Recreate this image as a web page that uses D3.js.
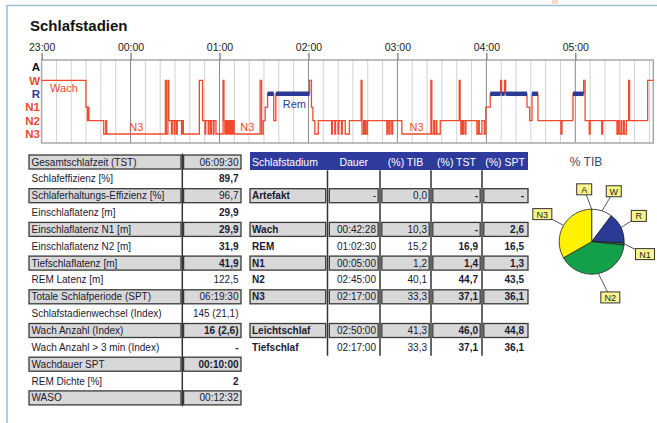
<!DOCTYPE html>
<html>
<head>
<meta charset="utf-8">
<script src="https://cdn.jsdelivr.net/npm/d3@7"></script>
<style>
body{margin:0;background:#fff;}
svg{display:block;font-family:"Liberation Sans",Arial,sans-serif;}
</style>
</head>
<body>
<div id="chart"></div>
<script>
// Hypnogramm: Minuten ab 23:00, jeweils Beginn eines Stadiums
var stageTimes = [0,29.9,30.9,31.3,31.9,41.9,43.3,43.9,83.5,84.1,85.2,85.8,87.6,88.1,89.4,89.9,91.0,91.5,94.4,94.9,95.6,
  106.4,108.6,110.2,110.7,112.4,112.9,114.0,114.5,115.8,116.3,117.6,122.4,123.0,123.6,124.3,124.9,125.6,126.2,126.9,127.5,128.1,128.7,129.3,129.9,
  147.4,148.4,149.5,150.8,152.4,156.6,158.0,180.7,182.0,183.0,184.3,186.6,195.6,196.1,197.8,198.3,200.0,200.5,202.3,202.8,204.8,207.6,
  215.5,216.1,217.2,217.6,218.4,218.8,219.8,232.9,233.5,234.5,235.0,236.2,236.8,243.0,262.6,263.2,264.5,265.0,266.2,266.6,268.9,
  281.7,282.3,282.8,283.3,284.0,284.5,285.6,286.2,293.6,294.6,295.2,297.0,298.6,299.6,302.6,309.6,310.3,312.3,313.0,327.4,329.2,330.8,334.8,
  350.3,351.0,358.4,365.6,366.6,369.4,370.0,377.8,378.4,388.1,389.0,389.6,390.8,391.3,392.5,393.0,394.4,396.0,396.6,408.8];
var stageCodes = ["W","N1","N2","N1","N2","N3","N2","N3","W","N3","W","N2","N3","N2","N3","N2","N3","N2","N3","N2","N3",
  "W","N2","N3","N2","N3","N2","N3","N2","N3","N2","N3","W","N2","N3","N2","N3","N2","N3","N2","N3","N2","N3","N2","N3",
  "W","N3","N2","N1","R","N2","R","W","N1","N2","N3","N2","N3","N2","N3","N2","N3","N2","N3","N2","N3","N2",
  "W","N3","N2","N3","N2","N3","N2","N3","N2","N3","N2","N3","N2","N3","W","N3","N2","N3","N2","N3","N2",
  "W","N2","N3","N2","N3","N2","N3","N2","N3","N2","N3","N2","N3","N1","R","W","R","W","R","N1","N2","R","N2",
  "N3","N2","R","W","N2","N3","N2","N3","N2","N3","N2","N3","N2","N3","N2","N3","N2","W","N2","W"];
var endMinute = 412.6;
var stageNames = ["A","W","R","N1","N2","N3"];
var hourLabels = ["23:00","00:00","01:00","02:00","03:00","04:00","05:00"];
var hourMinutes = [0,60,120,180,240,300,360];
var plotLabels = ["Wach","N3","N3","Rem","N3"];
var plotLabelMinutes = [5.7,59.2,134,162.7,248.2];
var plotLabelStages = ["W","N3","N3","R","N3"];

// linke Tabelle
var leftLabels = ["Gesamtschlafzeit (TST)","Schlafeffizienz [%]","Schlaferhaltungs-Effizienz [%]","Einschlaflatenz [m]",
  "Einschlaflatenz N1 [m]","Einschlaflatenz N2 [m]","Tiefschlaflatenz [m]","REM Latenz [m]","Totale Schlafperiode (SPT)",
  "Schlafstadienwechsel (Index)","Wach Anzahl (Index)","Wach Anzahl > 3 min (Index)","Wachdauer SPT","REM Dichte [%]","WASO"];
var leftValues = ["06:09:30","89,7","96,7","29,9","29,9","31,9","41,9","122,5","06:19:30","145 (21,1)","16 (2,6)","-","00:10:00","2","00:12:32"];

// rechte Tabelle
var headers = ["Schlafstadium","Dauer","(%) TIB","(%) TST","(%) SPT"];
var stageRows = ["","Artefakt","","Wach","REM","N1","N2","N3","","Leichtschlaf","Tiefschlaf"];
var dauer = ["","-","","00:42:28","01:02:30","00:05:00","02:45:00","02:17:00","","02:50:00","02:17:00"];
var tib = ["","0,0","","10,3","15,2","1,2","40,1","33,3","","41,3","33,3"];
var tst = ["","-","","-","16,9","1,4","44,7","37,1","","46,0","37,1"];
var spt = ["","-","","2,6","16,5","1,3","43,5","36,1","","44,8","36,1"];

// Torte % TIB
var pieLabels = ["A","W","R","N1","N2","N3"];
var pieValues = [0.0,10.3,15.2,1.2,40.1,33.3];

var red = "#ef4a2e", blue = "#2b3a96", ink = "#1a1a33";
var leftBold = [1,3,4,5,6,10,11,12,13];
var svg = d3.select("#chart").append("svg").attr("width",657).attr("height",423);

svg.append("rect").attr("x",552).attr("y",0).attr("width",6).attr("height",4).attr("fill","#fbd9c3");
svg.append("path").attr("d","M7,423V5.5H657").attr("fill","none").attr("stroke","#9dbfd0").attr("stroke-width",1.5);
svg.append("text").attr("x",30).attr("y",31).text("Schlafstadien")
  .style("font-size","15px").style("font-weight","bold").attr("fill","#111");

// ---- Hypnogramm ----
var x = d3.scaleLinear().domain([0,endMinute]).range([41.6,653.3]);
var y = d3.scalePoint().domain(stageNames).range([67,134]);
var pTop = 60, pBot = 143;

svg.append("g").selectAll("line").data(d3.range(10,endMinute,10).filter(function(m){return m%60!=0;}))
  .enter().append("line")
  .attr("x1",function(d){return x(d);}).attr("x2",function(d){return x(d);})
  .attr("y1",pTop).attr("y2",pBot).attr("stroke","#d2d2d2").attr("stroke-width",1);
svg.append("g").selectAll("line").data(hourMinutes.slice(1))
  .enter().append("line")
  .attr("x1",function(d){return x(d);}).attr("x2",function(d){return x(d);})
  .attr("y1",pTop).attr("y2",pBot).attr("stroke","#8a8a8a").attr("stroke-width",1);
svg.append("rect").attr("x",x(0)).attr("y",pTop).attr("width",x(endMinute)-x(0)).attr("height",pBot-pTop)
  .attr("fill","none").attr("stroke","#a8a8a8").attr("stroke-width",1.5);

var xAxis = d3.axisTop(x).tickValues(hourMinutes)
  .tickFormat(function(d,i){return hourLabels[i];}).tickSize(7).tickPadding(2);
var gx = svg.append("g").attr("transform","translate(0,"+pTop+")").call(xAxis);
gx.select(".domain").remove();
gx.selectAll("line").attr("stroke","#555");
gx.selectAll("text").style("font-size","10.5px").attr("fill","#222").style("font-family","Liberation Sans, Arial");

var stageColor = {A:"#111",W:red,R:blue,N1:red,N2:red,N3:red};
var gy = svg.append("g").attr("transform","translate(41,0)").call(d3.axisLeft(y).tickSize(0).tickPadding(1));
gy.select(".domain").remove();
gy.selectAll("text").style("font-size","11.5px").style("font-weight","bold")
  .style("font-family","Liberation Sans, Arial").attr("fill",function(d){return stageColor[d];});

var pts = stageTimes.map(function(t,i){return [t,stageCodes[i]];});
pts.push([endMinute,stageCodes[stageCodes.length-1]]);
var line = d3.line().curve(d3.curveStepAfter)
  .x(function(d){return x(d[0]);}).y(function(d){return y(d[1]);});
svg.append("path").datum(pts).attr("d",line).attr("fill","none").attr("stroke",red).attr("stroke-width",1.3);

var remSegs = [];
stageCodes.forEach(function(s,i){
  if(s=="R") remSegs.push([stageTimes[i], i+1<stageTimes.length ? stageTimes[i+1] : endMinute]);
});
svg.append("g").selectAll("line").data(remSegs).enter().append("line")
  .attr("x1",function(d){return x(d[0]);}).attr("x2",function(d){return x(d[1]);})
  .attr("y1",y("R")).attr("y2",y("R")).attr("stroke",blue).attr("stroke-width",4.5);

var labelDy = {W:12,N3:-3,R:14};
svg.append("g").selectAll("text").data(plotLabels).enter().append("text")
  .attr("x",function(d,i){return x(plotLabelMinutes[i]);})
  .attr("y",function(d,i){return y(plotLabelStages[i])+labelDy[plotLabelStages[i]];})
  .text(function(d){return d;}).style("font-size","11px")
  .attr("fill",function(d,i){return plotLabelStages[i]=="R"?blue:red;});

// ---- Tabellen ----
var rowH = 16.85, row0 = 153.5;
function rowTop(i){return row0+i*rowH;}
function box(g,x0,x1,i){
  g.append("rect").attr("x",x0).attr("y",rowTop(i)+1.5).attr("width",x1-x0).attr("height",14)
    .attr("fill","#d8d8d8").attr("stroke","#3a3a3a").attr("stroke-width",1.3);
}

var lt = svg.append("g");
leftLabels.forEach(function(l,i){
  if(i%2==0){ box(lt,29,181,i); box(lt,183.6,241,i); }
});
lt.append("line").attr("x1",182.3).attr("x2",182.3).attr("y1",rowTop(0)).attr("y2",rowTop(15))
  .attr("stroke","#333").attr("stroke-width",1.5);
lt.selectAll("text.l").data(leftLabels).enter().append("text")
  .attr("x",31.5).attr("y",function(d,i){return rowTop(i)+12;}).text(function(d){return d;})
  .style("font-size","10px").attr("fill",ink);
lt.selectAll("text.v").data(leftValues).enter().append("text")
  .attr("x",238.5).attr("y",function(d,i){return rowTop(i)+12;}).attr("text-anchor","end")
  .text(function(d){return d;}).style("font-size","10px").attr("fill",ink)
  .style("font-weight",function(d,i){return leftBold.indexOf(i)>=0?"bold":"normal";});

var cols = [250,327.5,380,431,482,528];
var rt = svg.append("g");
rt.append("rect").attr("x",cols[0]).attr("y",rowTop(0)-1.5).attr("width",cols[5]-cols[0]).attr("height",18)
  .attr("fill","#2f3b9c");
rt.selectAll("text.h").data(headers).enter().append("text")
  .attr("x",function(d,c){return c==0?252:(cols[c]+cols[c+1])/2;})
  .attr("y",rowTop(0)+12).attr("text-anchor",function(d,c){return c==0?"start":"middle";})
  .text(function(d){return d;}).style("font-size","10.5px").attr("fill","#fff");

var cells = [stageRows,dauer,tib,tst,spt];
stageRows.forEach(function(s,j){
  var i = j+1;
  if(i%2==0 && s!=""){
    for(var c=0;c<5;c++) box(rt,cols[c]+(c>0?1.8:0),cols[c+1]-(c<4?1.8:0),i);
  }
});
for(var c=1;c<5;c++){
  rt.append("line").attr("x1",cols[c]).attr("x2",cols[c]).attr("y1",rowTop(1)).attr("y2",rowTop(12))
    .attr("stroke","#333").attr("stroke-width",1.5);
}
cells.forEach(function(arr,c){
  rt.selectAll("text.c"+c).data(arr).enter().append("text")
    .attr("x",c==0?252:cols[c+1]-4).attr("y",function(d,j){return rowTop(j+1)+12;})
    .attr("text-anchor",c==0?"start":"end").text(function(d){return d;})
    .style("font-size","10px").attr("fill",ink)
    .style("font-weight",(c==0||c>=3)?"bold":"normal");
});

// ---- Torte ----
var cx = 591.7, cy = 241.7, r = 32.5;
var pieColor = {A:"#ffffff",W:"#ffffff",R:blue,N1:"#1f6d38",N2:"#13a04b",N3:"#fff200"};
var nudge = {A:[-7.5,2.6],W:[4.6,1.7],R:[-2.5,-2],N1:[-1.6,8.7],N2:[7.3,1.9],N3:[-1.8,0]};
var pie = d3.pie().sort(null).value(function(d){return d;});
var arcs = pie(pieValues);
var arc = d3.arc().innerRadius(0).outerRadius(r);

svg.append("text").attr("x",586).attr("y",165.5).attr("text-anchor","middle").text("% TIB")
  .style("font-size","12px").attr("fill","#3b4a6b");

var pg = svg.append("g").attr("transform","translate("+cx+","+cy+")");
pg.selectAll("path").data(arcs).enter().append("path").attr("d",arc)
  .attr("fill",function(d,i){return pieColor[pieLabels[i]];})
  .attr("stroke","#222").attr("stroke-width",0.8);

function mid(d){return (d.startAngle+d.endAngle)/2;}
function lab(d,i){
  var a = mid(d), n = nudge[pieLabels[i]];
  return [55*Math.sin(a)+n[0], -55*Math.cos(a)+n[1]];
}
pg.selectAll("line").data(arcs).enter().append("line")
  .attr("x1",function(d){return r*Math.sin(mid(d));}).attr("y1",function(d){return -r*Math.cos(mid(d));})
  .attr("x2",function(d,i){return lab(d,i)[0];}).attr("y2",function(d,i){return lab(d,i)[1];})
  .attr("stroke","#444").attr("stroke-width",0.9);
var lg = pg.selectAll("g.lab").data(arcs).enter().append("g")
  .attr("transform",function(d,i){var p=lab(d,i);return "translate("+p[0]+","+p[1]+")";});
lg.append("rect")
  .attr("x",function(d,i){return pieLabels[i].length>1?-9.5:-7.5;}).attr("y",-5.5)
  .attr("width",function(d,i){return pieLabels[i].length>1?19:15;}).attr("height",11)
  .attr("fill","#fbf58a").attr("stroke","#333").attr("stroke-width",1);
lg.append("text").attr("y",3.5).attr("text-anchor","middle").text(function(d,i){return pieLabels[i];})
  .style("font-size","9px").attr("fill","#222");
</script>
</body>
</html>
